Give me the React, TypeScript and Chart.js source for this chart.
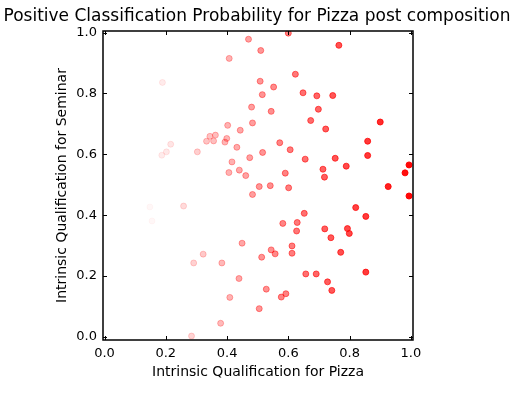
import React, { useEffect, useRef } from "react";
import { Chart, registerables } from "chart.js";

Chart.register(...registerables);

const titleText = "Positive Classification Probability for Pizza post composition";
const xLabel = "Intrinsic Qualification for Pizza";
const yLabel = "Intrinsic Qualification for Seminar";
const tickValues = [0.0, 0.2, 0.4, 0.6, 0.8, 1.0];
const tickLabels = ["0.0", "0.2", "0.4", "0.6", "0.8", "1.0"];

const pizza = [
  0.470, 0.600, 0.765, 0.510, 0.407, 0.189, 0.623, 0.508, 0.552, 0.648,
  0.515, 0.693, 0.745, 0.480, 0.698, 0.544, 0.673, 0.483, 0.722, 0.900,
  0.402, 0.443, 0.362, 0.344, 0.399, 0.333, 0.356, 0.393, 0.432, 0.216,
  0.202, 0.187, 0.303, 0.859, 0.572, 0.606, 0.516, 0.474, 0.655, 0.753,
  0.859, 0.416, 0.789, 0.713, 0.994, 0.440, 0.406, 0.461, 0.590, 0.718,
  0.981, 0.505, 0.541, 0.601, 0.926, 0.483, 0.994, 0.820, 0.652, 0.853,
  0.582, 0.629, 0.627, 0.719, 0.793, 0.799, 0.739, 0.612, 0.544, 0.557,
  0.612, 0.513, 0.771, 0.657, 0.691, 0.853, 0.728, 0.742, 0.528, 0.592,
  0.577, 0.505, 0.148, 0.155, 0.258, 0.449, 0.322, 0.291, 0.383, 0.439,
  0.409, 0.379, 0.284,
];

const seminar = [
  0.978, 0.998, 0.958, 0.941, 0.915, 0.836, 0.863, 0.840, 0.821, 0.802,
  0.796, 0.792, 0.793, 0.755, 0.748, 0.741, 0.711, 0.703, 0.683, 0.706,
  0.695, 0.679, 0.663, 0.659, 0.652, 0.643, 0.644, 0.640, 0.623, 0.633,
  0.608, 0.597, 0.608, 0.643, 0.638, 0.615, 0.606, 0.589, 0.584, 0.587,
  0.596, 0.575, 0.561, 0.551, 0.565, 0.548, 0.540, 0.530, 0.538, 0.525,
  0.539, 0.494, 0.497, 0.490, 0.494, 0.468, 0.463, 0.425, 0.406, 0.396,
  0.373, 0.376, 0.348, 0.355, 0.356, 0.340, 0.326, 0.299, 0.286, 0.273,
  0.275, 0.262, 0.278, 0.207, 0.207, 0.213, 0.181, 0.153, 0.157, 0.142,
  0.131, 0.093, 0.427, 0.381, 0.430, 0.308, 0.272, 0.243, 0.243, 0.192,
  0.130, 0.045, 0.003,
];

const probability = [
  0.37, 0.50, 0.68, 0.41, 0.30, 0.08, 0.53, 0.41, 0.45, 0.56,
  0.42, 0.60, 0.66, 0.38, 0.60, 0.44, 0.58, 0.38, 0.63, 0.83,
  0.30, 0.34, 0.26, 0.24, 0.29, 0.23, 0.25, 0.29, 0.33, 0.10,
  0.09, 0.08, 0.19, 0.78, 0.48, 0.51, 0.42, 0.37, 0.56, 0.67,
  0.78, 0.31, 0.71, 0.62, 0.97, 0.34, 0.30, 0.36, 0.49, 0.63,
  0.94, 0.41, 0.44, 0.50, 0.87, 0.38, 0.97, 0.74, 0.56, 0.77,
  0.48, 0.53, 0.53, 0.63, 0.71, 0.72, 0.65, 0.51, 0.44, 0.46,
  0.51, 0.42, 0.69, 0.56, 0.60, 0.77, 0.64, 0.66, 0.43, 0.49,
  0.48, 0.41, 0.03, 0.03, 0.14, 0.35, 0.21, 0.18, 0.28, 0.34,
  0.30, 0.27, 0.17,
];

const FONT = "'DejaVu Sans', sans-serif";

const framePlugin = {
  id: "mplFrame",
  afterDraw(chart: any) {
    const { ctx, chartArea } = chart;
    const { left, right, top, bottom } = chartArea;
    const xs = chart.scales.x;
    const ys = chart.scales.y;
    const len = 4;
    ctx.save();
    ctx.strokeStyle = "#000";
    ctx.lineWidth = 1;
    ctx.beginPath();
    for (const v of tickValues) {
      const px = Math.round(xs.getPixelForValue(v)) + 0.5;
      ctx.moveTo(px, bottom);
      ctx.lineTo(px, bottom - len);
      ctx.moveTo(px, top);
      ctx.lineTo(px, top + len);
      const py = Math.round(ys.getPixelForValue(v)) + 0.5;
      ctx.moveTo(left, py);
      ctx.lineTo(left + len, py);
      ctx.moveTo(right, py);
      ctx.lineTo(right - len, py);
    }
    ctx.stroke();
    ctx.lineWidth = 1.5;
    ctx.strokeRect(left, top, right - left, bottom - top);
    // title
    ctx.fillStyle = "#000";
    ctx.font = `17px ${FONT}`;
    ctx.textAlign = "center";
    ctx.textBaseline = "middle";
    ctx.fillText(titleText, (left + right) / 2 - 1, 17);
    ctx.restore();
  },
};

export default function App() {
  const ref = useRef<HTMLCanvasElement | null>(null);
  useEffect(() => {
    if (!ref.current) return;
    const points = pizza.map((x, i) => ({ x, y: seminar[i] }));
    const colors = probability.map((p) => `rgba(255,0,0,${p})`);
    const chart = new Chart(ref.current, {
      type: "scatter",
      data: {
        datasets: [
          {
            data: points,
            backgroundColor: colors,
            borderColor: colors,
            borderWidth: 1,
            pointRadius: 3,
          },
        ],
      },
      plugins: [framePlugin],
      options: {
        responsive: false,
        animation: false,
        events: [],
        layout: { padding: { left: 54, right: 107, top: 31, bottom: 13 } },
        plugins: {
          legend: { display: false },
          tooltip: { enabled: false },
          title: { display: false },
        },
        scales: {
          x: {
            type: "linear",
            min: -0.005,
            max: 1.007,
            grid: { display: false, drawTicks: false },
            border: { display: false },
            afterBuildTicks: (s: any) => {
              s.ticks = tickValues.map((v) => ({ value: v }));
            },
            afterFit: (s: any) => {
              s.height = 41;
              s.paddingLeft = 0;
              s.paddingRight = 0;
            },
            ticks: {
              color: "#000",
              padding: 6,
              maxRotation: 0,
              font: { family: FONT, size: 13 },
              callback: (v: any) => tickLabels[tickValues.indexOf(Number(v))] ?? "",
            },
            title: {
              display: true,
              text: xLabel,
              color: "#000",
              padding: 0,
              font: { family: FONT, size: 14 },
            },
          },
          y: {
            type: "linear",
            min: -0.01,
            max: 1.005,
            grid: { display: false, drawTicks: false },
            border: { display: false },
            afterBuildTicks: (s: any) => {
              s.ticks = tickValues.map((v) => ({ value: v }));
            },
            afterFit: (s: any) => {
              s.width = 49;
              s.paddingTop = 0;
              s.paddingBottom = 0;
            },
            ticks: {
              color: "#000",
              padding: 6,
              font: { family: FONT, size: 13 },
              callback: (v: any) => tickLabels[tickValues.indexOf(Number(v))] ?? "",
            },
            title: {
              display: true,
              text: yLabel,
              color: "#000",
              padding: 0,
              font: { family: FONT, size: 14 },
            },
          },
        },
      },
    });
    return () => chart.destroy();
  }, []);
  return (
    <div style={{ position: "absolute", left: 0, top: 0, width: 520, height: 394, background: "#fff" }}>
      <canvas ref={ref} width={520} height={394} />
    </div>
  );
}
